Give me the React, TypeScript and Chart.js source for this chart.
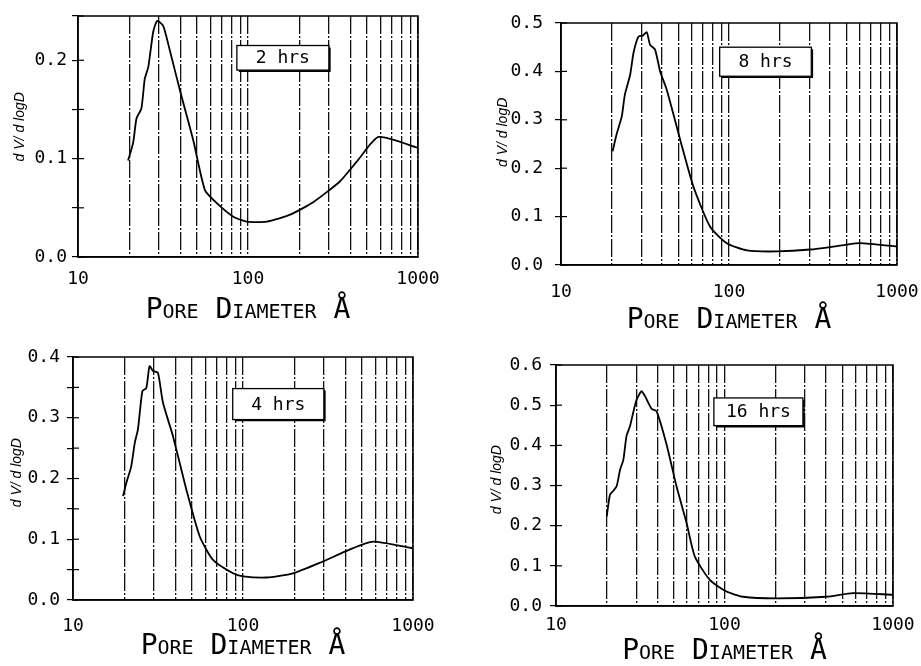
import React, { useEffect, useRef } from 'react';
import { Chart, registerables } from 'chart.js';

Chart.register(...registerables);

// ---------- data ----------
const GRID_DIAMETERS = [10, 20, 30, 40, 50, 60, 70, 80, 90, 100, 200, 300, 400, 500, 600, 700, 800, 900, 1000];
const LABELLED_DIAMETERS = [10, 100, 1000];

const DIAM_2H = [19.7, 21.1, 22.1, 23.6, 24.7, 25.9, 27.7, 29.2, 31.7, 34.7, 39.7, 47.6, 55.8, 65.3, 81.9, 98, 129, 177, 243, 348, 446, 586, 1000];
const DV_2H = [0.098, 0.116, 0.141, 0.151, 0.181, 0.193, 0.229, 0.24, 0.235, 0.21, 0.17, 0.119, 0.068, 0.055, 0.041, 0.036, 0.036, 0.043, 0.056, 0.077, 0.099, 0.122, 0.111];

const DIAM_8H = [20.3, 21.5, 23.0, 24.0, 25.8, 27.0, 28.9, 30.7, 32.4, 33.9, 36.3, 38.9, 42.6, 51.2, 61.4, 77.2, 97, 128, 193, 304, 481, 604, 1000];
const DV_8H = [0.235, 0.272, 0.307, 0.352, 0.393, 0.438, 0.472, 0.474, 0.481, 0.455, 0.445, 0.4, 0.362, 0.259, 0.162, 0.079, 0.045, 0.03, 0.028, 0.032, 0.041, 0.045, 0.038];

const DIAM_4H = [19.7, 20.6, 22.0, 23.1, 24.1, 25.6, 27.0, 28.2, 29.6, 31.6, 33.8, 38.7, 46.4, 55.6, 66.6, 87.3, 100, 137, 197, 282, 424, 582, 1000];
const DV_4H = [0.171, 0.193, 0.22, 0.259, 0.281, 0.344, 0.349, 0.385, 0.377, 0.374, 0.325, 0.27, 0.182, 0.105, 0.066, 0.044, 0.039, 0.037, 0.044, 0.061, 0.083, 0.096, 0.085];

const DIAM_16H = [20.0, 20.9, 21.7, 22.9, 24.0, 25.1, 26.2, 27.5, 28.7, 30.1, 32.2, 33.7, 36.9, 39.5, 45.3, 51.9, 59.6, 66.7, 81.8, 102.8, 129, 203, 402, 579, 1000];
const DV_16H = [0.223, 0.277, 0.285, 0.298, 0.339, 0.364, 0.423, 0.448, 0.481, 0.514, 0.535, 0.523, 0.491, 0.485, 0.402, 0.298, 0.206, 0.123, 0.065, 0.036, 0.023, 0.019, 0.023, 0.032, 0.028];

const PANEL_LABELS = ['2 hrs', '8 hrs', '4 hrs', '16 hrs'];
const Y_MAX = [0.245, 0.5, 0.4, 0.6];
const Y_STEP = [0.05, 0.1, 0.05, 0.1];

// label box anchors, in data units (pore diameter range, dV/dlogD range)
const BOX_X = [[86, 299], [88, 309], [87, 299], [86.5, 292]];
const BOX_Y = [[0.19, 0.215], [0.39, 0.45], [0.297, 0.348], [0.449, 0.518]];

const X_TITLE = 'Pore Diameter Å';
const Y_TITLE = 'd V/ d logD';

// ---------- layout (pixels) ----------
const W = 921;
const H = 666;
const YW = 70;
const XH = 60;
const LAYOUT = [
  { area: [78, 16, 418, 257], yTickPad: 5, xTickPad: 11.5, yTitlePad: 3.6, xTitlePad: -10.6, yTitleShift: 5 },
  { area: [561, 23, 897, 265], yTickPad: 12, xTickPad: 16.5, yTitlePad: 3.6, xTitlePad: -12.6, yTitleShift: 6 },
  { area: [73, 357, 413, 600], yTickPad: 7, xTickPad: 16, yTitlePad: 5.6, xTitlePad: -3.6, yTitleShift: 3 },
  { area: [556, 365, 893, 606], yTickPad: 8, xTickPad: 8.5, yTitlePad: 2.6, xTitlePad: -2.6, yTitleShift: 3 },
];

const SERIES = [
  [DIAM_2H, DV_2H],
  [DIAM_8H, DV_8H],
  [DIAM_4H, DV_4H],
  [DIAM_16H, DV_16H],
];

const MONO = 'DejaVu Sans Mono';

const framePlugin = {
  id: 'frame',
  afterDraw(chart: any, _args: any, opts: any) {
    const { ctx, chartArea: a, scales } = chart;
    const y = scales.y;
    const x = scales.x;
    ctx.save();
    ctx.setLineDash([]);
    ctx.strokeStyle = '#000';
    ctx.lineWidth = 1.5;
    ctx.strokeRect(a.left, a.top, a.right - a.left, a.bottom - a.top);
    ctx.lineWidth = 1.2;
    y.ticks.forEach((t: any) => {
      const py = y.getPixelForValue(t.value);
      ctx.beginPath();
      ctx.moveTo(a.left, py);
      ctx.lineTo(a.left + 6, py);
      ctx.stroke();
    });
    if (opts && opts.text) {
      const x0 = x.getPixelForValue(opts.bx[0]);
      const x1 = x.getPixelForValue(opts.bx[1]);
      const y0 = y.getPixelForValue(opts.by[1]);
      const y1 = y.getPixelForValue(opts.by[0]);
      ctx.fillStyle = '#fff';
      ctx.fillRect(x0, y0, x1 - x0, y1 - y0);
      ctx.lineWidth = 1.3;
      ctx.strokeRect(x0, y0, x1 - x0, y1 - y0);
      ctx.lineWidth = 1.6;
      ctx.beginPath();
      ctx.moveTo(x1 + 1, y0 + 2);
      ctx.lineTo(x1 + 1, y1 + 1);
      ctx.lineTo(x0 + 2, y1 + 1);
      ctx.stroke();
      ctx.fillStyle = '#000';
      ctx.font = `18px "${MONO}"`;
      ctx.textAlign = 'center';
      ctx.textBaseline = 'middle';
      ctx.fillText(opts.text, (x0 + x1) / 2, (y0 + y1) / 2 + 1);
    }
    ctx.restore();
  },
};

function makeConfig(i: number): any {
  const L = LAYOUT[i];
  const [l, t, r, b] = L.area;
  const [diam, dv] = SERIES[i];
  return {
    type: 'line',
    data: {
      datasets: [
        {
          data: diam.map((d, k) => ({ x: d, y: dv[k] })),
          borderColor: '#000',
          borderWidth: 1.8,
          pointRadius: 0,
          tension: 0.2,
          fill: false,
        },
      ],
    },
    options: {
      responsive: false,
      animation: false,
      devicePixelRatio: 1,
      events: [],
      layout: { padding: { left: l - YW, top: t, right: W - r, bottom: H - b - XH } },
      plugins: {
        legend: { display: false },
        tooltip: { enabled: false },
        frame: { text: PANEL_LABELS[i], bx: BOX_X[i], by: BOX_Y[i] },
      },
      scales: {
        x: {
          type: 'logarithmic',
          min: 10,
          max: 1000,
          afterBuildTicks: (s: any) => {
            s.ticks = GRID_DIAMETERS.map((v) => ({ value: v }));
          },
          afterFit: (s: any) => {
            s.height = XH;
            s.paddingLeft = 0;
            s.paddingRight = 0;
          },
          ticks: {
            autoSkip: false,
            maxRotation: 0,
            minRotation: 0,
            padding: L.xTickPad,
            color: '#000',
            font: { family: MONO, size: 18 },
            callback: (v: number) => (LABELLED_DIAMETERS.includes(v) ? String(v) : ''),
          },
          grid: { display: true, drawOnChartArea: true, drawTicks: false, color: '#111', lineWidth: 1.3 },
          border: { display: true, color: '#000', width: 1.5, dash: [18, 2, 2, 2] },
          title: {
            display: true,
            text: X_TITLE,
            color: '#000',
            font: { family: MONO, size: 28, weight: 'small-caps' },
            padding: { top: 0, bottom: L.xTitlePad },
          },
        },
        y: {
          type: 'linear',
          min: 0,
          max: Y_MAX[i],
          afterFit: (s: any) => {
            s.width = YW;
            s.paddingTop = 0;
            s.paddingBottom = 0;
          },
          ticks: {
            stepSize: Y_STEP[i],
            autoSkip: false,
            padding: L.yTickPad,
            color: '#000',
            font: { family: MONO, size: 18 },
            callback: (v: number) => {
              const rr = Math.round(v * 10) / 10;
              return Math.abs(v - rr) < 1e-6 ? rr.toFixed(1) : '';
            },
          },
          grid: { display: true, drawOnChartArea: false, drawTicks: true, tickLength: 6, color: '#000', lineWidth: 1.2 },
          border: { display: true, color: '#000', width: 1.5 },
          title: {
            display: true,
            text: ' '.repeat(L.yTitleShift) + Y_TITLE,
            color: '#000',
            font: { family: 'Liberation Sans', size: 14, style: 'italic' },
            padding: { top: L.yTitlePad, bottom: 0 },
          },
        },
      },
    },
    plugins: [framePlugin],
  };
}

export default function App() {
  const refs = [
    useRef<HTMLCanvasElement>(null),
    useRef<HTMLCanvasElement>(null),
    useRef<HTMLCanvasElement>(null),
    useRef<HTMLCanvasElement>(null),
  ];
  useEffect(() => {
    const charts = refs.map((r, i) => new Chart(r.current as HTMLCanvasElement, makeConfig(i)));
    return () => charts.forEach((c) => c.destroy());
  }, []);
  return (
    <div style={{ position: 'absolute', left: 0, top: 0, width: W, height: H, background: '#fff', overflow: 'hidden' }}>
      {refs.map((r, i) => (
        <canvas
          key={i}
          ref={r}
          width={W}
          height={H}
          style={{ position: 'absolute', left: 0, top: 0, width: W, height: H }}
        />
      ))}
    </div>
  );
}
